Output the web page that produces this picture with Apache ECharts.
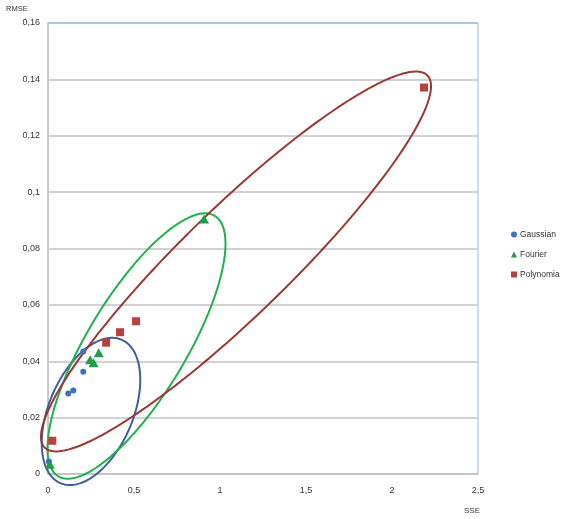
<!DOCTYPE html>
<html>
<head>
<meta charset="utf-8">
<script src="https://cdn.jsdelivr.net/npm/echarts@6/dist/echarts.min.js"></script>
<style>
  html, body { margin: 0; padding: 0; background: #ffffff; }
  #chart { width: 566px; height: 519px; }
</style>
</head>
<body>
<div id="chart"></div>
<script>
// Fit quality per method: [SSE, RMSE]
const gaussianPoints = [
  [0.005, 0.0044],
  [0.118, 0.0286],
  [0.147, 0.0296],
  [0.205, 0.0363],
  [0.205, 0.0435]
];
const fourierPoints = [
  [0.010, 0.0035],
  [0.245, 0.0405],
  [0.265, 0.0395],
  [0.295, 0.0430],
  [0.907, 0.0905]
];
const polynomialPoints = [
  [0.025, 0.0118],
  [0.338, 0.0466],
  [0.419, 0.0503],
  [0.512, 0.0542],
  [2.186, 0.1371]
];
const seriesNames = ['Gaussian', 'Fourier', 'Polynomia'];

// Grouping ellipses: centre, then two conjugate half-axes (SSE, RMSE units)
const ellipseCenters = [[0.250, 0.0222], [0.5145, 0.0454], [1.093, 0.0754]];
const ellipseAxisA = [[0.1773, 0.02546], [0.455, 0.0462], [1.113, 0.0660]];
const ellipseAxisB = [[-0.225, 0.00582], [-0.2466, 0.00904], [-0.217, 0.0136]];

const xTicks = { min: 0, max: 2.5, step: 0.5 };
const yTicks = { min: 0, max: 0.16, step: 0.02 };

const colors = {
  gaussian: '#3F72B8',
  fourier: '#1E9E48',
  polynomial: '#B8403D',
  ellipse: ['#3D5F9E', '#22B04E', '#9A3835'],
  grid: '#C3C3C3',
  frame: '#9DBBE0',
  text: '#333333'
};

const comma = v => String(+v.toFixed(2)).replace('.', ',');

function ellipseSeries(idx) {
  const c = ellipseCenters[idx], a = ellipseAxisA[idx], b = ellipseAxisB[idx];
  return {
    type: 'custom',
    coordinateSystem: 'cartesian2d',
    clip: false,
    silent: true,
    z: 1,
    data: [[c[0], c[1], a[0], a[1], b[0], b[1]]],
    encode: { x: 0, y: 1 },
    renderItem: function (params, api) {
      const cx = api.value(0), cy = api.value(1);
      const ax = api.value(2), ay = api.value(3);
      const bx = api.value(4), by = api.value(5);
      const pts = [];
      const n = 180;
      for (let i = 0; i <= n; i++) {
        const t = (i / n) * Math.PI * 2;
        pts.push(api.coord([
          cx + ax * Math.cos(t) + bx * Math.sin(t),
          cy + ay * Math.cos(t) + by * Math.sin(t)
        ]));
      }
      return {
        type: 'polyline',
        shape: { points: pts, smooth: 0 },
        style: { stroke: colors.ellipse[idx], lineWidth: 2, fill: null }
      };
    }
  };
}

const chart = echarts.init(document.getElementById('chart'), null, { renderer: 'canvas' });

const splitColors = [];
for (let v = yTicks.min; v < yTicks.max - 1e-9; v += yTicks.step) splitColors.push(colors.grid);
splitColors.push(colors.frame);

chart.setOption({
  animation: false,
  backgroundColor: '#ffffff',
  textStyle: { fontFamily: 'Liberation Sans, Arial, sans-serif' },
  grid: {
    left: 48, right: 88, top: 23, bottom: 45,
    show: true,
    borderColor: colors.frame,
    borderWidth: 1
  },
  xAxis: {
    type: 'value',
    min: xTicks.min, max: xTicks.max, interval: xTicks.step,
    axisLine: { show: true, lineStyle: { color: colors.grid, width: 1.5 } },
    axisTick: { show: false },
    splitLine: { show: false },
    axisLabel: { color: colors.text, fontSize: 9, margin: 12, formatter: comma }
  },
  yAxis: {
    type: 'value',
    min: yTicks.min, max: yTicks.max, interval: yTicks.step,
    axisLine: { show: true, lineStyle: { color: colors.grid, width: 1.5 } },
    axisTick: { show: false },
    splitLine: { show: true, lineStyle: { color: splitColors, width: 1.5 } },
    axisLabel: { color: colors.text, fontSize: 9, margin: 8, formatter: comma }
  },
  legend: {
    orient: 'vertical',
    left: 506, top: 225,
    itemWidth: 6, itemHeight: 6,
    itemGap: 11,
    data: [
      { name: seriesNames[0], icon: 'circle' },
      { name: seriesNames[1], icon: 'triangle' },
      { name: seriesNames[2], icon: 'rect' }
    ],
    textStyle: { fontSize: 8.5, color: colors.text, padding: [0, 0, 0, -2] }
  },
  graphic: [
    { type: 'text', left: 6, top: 5, style: { text: 'RMSE', fontSize: 7.5, fill: colors.text, fontFamily: 'Liberation Sans' } },
    { type: 'text', left: 464, top: 507, style: { text: 'SSE', fontSize: 8, fill: colors.text, fontFamily: 'Liberation Sans' } }
  ],
  series: [
    ellipseSeries(0),
    ellipseSeries(1),
    ellipseSeries(2),
    {
      name: seriesNames[0], type: 'scatter', z: 3,
      symbol: 'circle', symbolSize: 6,
      itemStyle: { color: colors.gaussian, opacity: 1 },
      data: gaussianPoints
    },
    {
      name: seriesNames[1], type: 'scatter', z: 3,
      symbol: 'triangle', symbolSize: [10, 9],
      itemStyle: { color: colors.fourier, opacity: 1 },
      data: fourierPoints
    },
    {
      name: seriesNames[2], type: 'scatter', z: 3,
      symbol: 'rect', symbolSize: 8,
      itemStyle: { color: colors.polynomial, opacity: 1 },
      data: polynomialPoints
    }
  ]
});
</script>
</body>
</html>
